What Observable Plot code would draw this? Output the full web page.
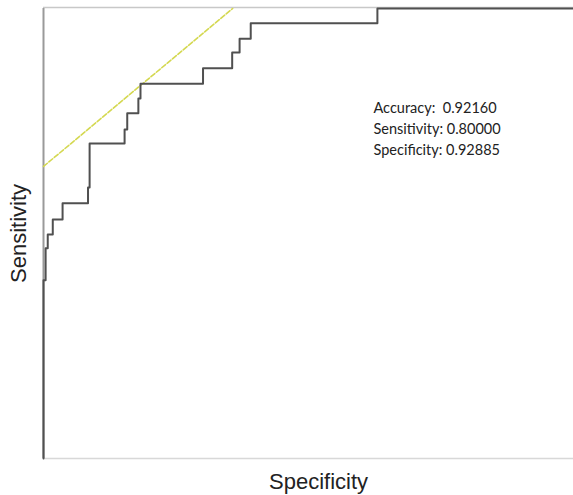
<!DOCTYPE html>
<html>
<head>
<meta charset="utf-8">
<script src="https://cdn.jsdelivr.net/npm/d3@7"></script>
<script src="https://cdn.jsdelivr.net/npm/@observablehq/plot@0.6"></script>
<style>
  html, body { margin: 0; padding: 0; background: #fff; }
  #chart svg { display: block; }
</style>
</head>
<body>
<div id="chart"></div>
<script>
// ROC staircase vertices (step-before)
const fpr = [0, 0.004, 0.008, 0.0175, 0.036, 0.084, 0.087, 0.153, 0.158, 0.179, 0.183, 0.301, 0.356, 0.370, 0.391, 0.630, 1.0];
const tpr = [0, 0.396, 0.467, 0.498, 0.531, 0.567, 0.602, 0.700, 0.731, 0.767, 0.800, 0.833, 0.867, 0.902, 0.933, 0.967, 1.0];
// tangent (iso-performance) line
const tangentX = [0, 0.357];
const tangentY = [0.649, 1.0];
// annotation
const metricNames = ["Accuracy: ", "Sensitivity:", "Specificity:"];
const metricValues = ["0.92160", "0.80000", "0.92885"];
const xLabel = "Specificity";
const yLabel = "Sensitivity";

const roc = fpr.map((x, i) => ({x, y: tpr[i]}));
const tangent = tangentX.map((x, i) => ({x, y: tangentY[i]}));
const noteText = metricNames.map((n, i) => n + " " + metricValues[i]).join("\n");

const chart = Plot.plot({
  width: 573,
  height: 495,
  marginLeft: 43,
  marginRight: 0,
  marginTop: 8,
  marginBottom: 37,
  x: {domain: [0, 1], axis: null},
  y: {domain: [0, 1], axis: null},
  style: {background: "#fff", fontFamily: "'Liberation Sans', Arial, sans-serif"},
  marks: [
    Plot.ruleY([1], {stroke: "#c8c8c8", strokeWidth: 1.5, dy: -1}),
    Plot.ruleY([0], {stroke: "#d8d8d8", strokeWidth: 1.5}),
    Plot.ruleX([0], {stroke: "#9a9a9a", strokeWidth: 2}),
    Plot.line(tangent, {x: "x", y: "y", stroke: "#d4d850", strokeWidth: 1.6, strokeDasharray: "5,2"}),
    Plot.line(roc, {x: "x", y: "y", curve: "step-before", stroke: "#505050", strokeWidth: 2}),
    Plot.text([noteText], {
      frameAnchor: "top-left", dx: 330, dy: 90,
      textAnchor: "start", lineAnchor: "top", lineHeight: 1.45,
      fontSize: 14.5, fill: "#222", fontFamily: "Lato, 'Open Sans', sans-serif"
    }),
    Plot.text([xLabel], {
      frameAnchor: "bottom", textAnchor: "middle", dx: 10, dy: 30,
      fontSize: 22, fill: "#222"
    }),
    Plot.text([yLabel], {
      frameAnchor: "left", textAnchor: "middle", dx: -25, rotate: -90,
      fontSize: 22, fill: "#222"
    })
  ]
});
document.getElementById("chart").appendChild(chart);
</script>
</body>
</html>
